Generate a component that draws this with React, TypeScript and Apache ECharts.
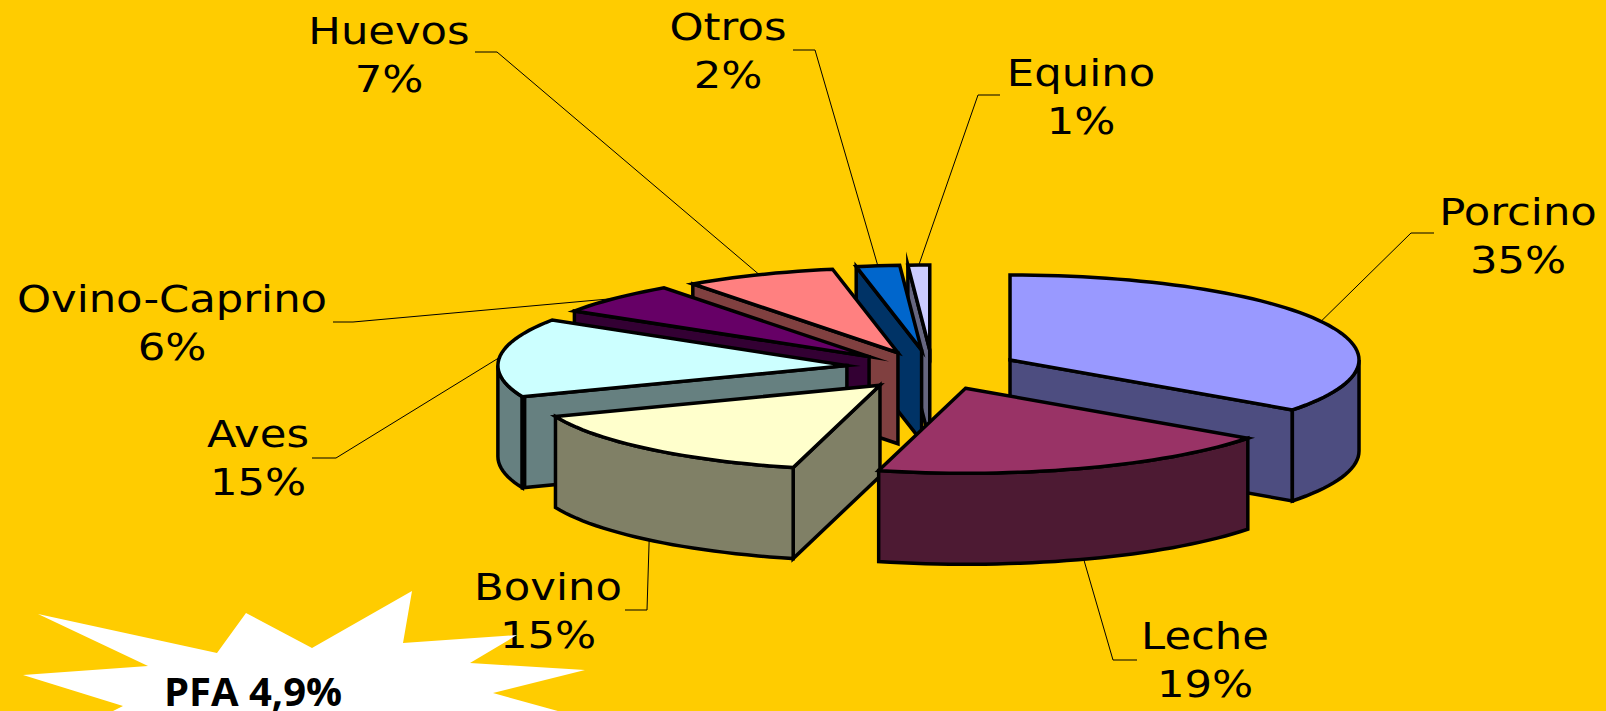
import React, { useEffect, useRef } from "react";
import * as echarts from "echarts";

// ---- data ----
const categories = ["Porcino", "Leche", "Bovino", "Aves", "Ovino-Caprino", "Huevos", "Otros", "Equino"];
const shares = [35, 19, 15, 15, 6, 7, 2, 1];
const topColors = ["#9999FF", "#993366", "#FFFFCC", "#CCFFFF", "#660066", "#FF8080", "#0066CC", "#CCCCFF"];
const wallColors = ["#4D4D80", "#4D1A33", "#808066", "#668080", "#330033", "#804040", "#003366", "#666680"];
const drawOrder = [7, 6, 5, 4, 3, 0, 2, 1];

// ---- layout of the exploded 3-D pie ----
const CX = 932.5;
const CY = 371;
const RX = 349;
const RY = 85;
const DEPTH = 91;
const EXPLODE = 87;
const EXPLODE_Y = 21;
const LINE = 3.5;
const FONT = "DejaVu Sans";

// small per-slice shift of the exploded position
const sliceNudges: number[][] = [
  [0, -1.5], [3.5, -2.5], [5, -1.5], [1, -3.5], [0, 0], [0, 1], [0, 0], [0, 0],
];

// label centre, and the elbow points of each leader (from label towards the slice)
const labelCentres: number[][] = [
  [1518, 236], [1205, 660], [548, 611], [258, 458], [172, 323], [389, 55], [728, 51], [1081, 97],
];
const leaderElbows: number[][][] = [
  [[1434, 233], [1411, 233]],
  [[1137, 660], [1113, 660]],
  [[625, 610], [647, 610]],
  [[312, 458], [336, 458]],
  [[333, 322], [353, 322]],
  [[475, 52], [497, 52]],
  [[793, 50], [815, 50]],
  [[1000, 95], [978, 95]],
];

const burst: number[][] = [
  [38, 614], [217, 653], [246, 613], [312, 648], [412, 591], [403, 643], [517, 635], [470, 663],
  [585, 670], [493, 693], [565, 713], [109, 713], [123, 706], [23, 675], [148, 666],
];

const total = shares.reduce((a, b) => a + b, 0);
const starts: number[] = [];
shares.reduce((acc, v, i) => {
  starts[i] = acc;
  return acc + (v / total) * 360;
}, 0);

const rad = (d: number) => (d * Math.PI) / 180;

function apex(i: number) {
  const mid = starts[i] + (shares[i] / total) * 180;
  return [
    CX + EXPLODE * Math.sin(rad(mid)) + sliceNudges[i][0],
    CY - EXPLODE_Y * Math.cos(rad(mid)) + sliceNudges[i][1],
  ];
}
function rim(i: number, deg: number, drop = 0) {
  const [ax, ay] = apex(i);
  return [ax + RX * Math.sin(rad(deg)), ay - RY * Math.cos(rad(deg)) + drop];
}
function arc(i: number, a: number, b: number, drop = 0) {
  const pts: number[][] = [];
  const n = Math.max(2, Math.ceil(Math.abs(b - a) / 2));
  for (let k = 0; k <= n; k++) pts.push(rim(i, a + ((b - a) * k) / n, drop));
  return pts;
}

const edge = (fill: string, lw = LINE) => ({
  fill,
  stroke: "#000",
  lineWidth: lw,
  lineJoin: "miter",
  miterLimit: 12,
});

function renderSlice(_: any, api: any) {
  const i = api.value(1);
  const a = starts[i];
  const b = a + (api.value(0) / total) * 360;
  const [ax, ay] = apex(i);
  const children: any[] = [];
  const wall = wallColors[i];

  // radial wall facing the viewer
  const radial = (deg: number) => {
    const p = rim(i, deg);
    children.push({
      type: "polygon",
      shape: { points: [[ax, ay], p, [p[0], p[1] + DEPTH], [ax, ay + DEPTH]] },
      style: edge(wall),
    });
  };
  if (Math.sin(rad(a)) < -1e-6) radial(a);
  if (Math.sin(rad(b)) > 1e-6) radial(b);

  // outer rim wall
  const from = Math.max(a, 90);
  const to = Math.min(b, 270);
  if (to > from) {
    children.push({
      type: "polygon",
      shape: { points: [...arc(i, from, to), ...arc(i, to, from, DEPTH)] },
      style: edge(wall),
    });
  }
  // heavy corner on the Aves slice, where rim and radial wall meet
  if (categories[i] === "Aves") {
    const p = rim(i, a);
    children.push({
      type: "line",
      shape: { x1: p[0] + 1, y1: p[1], x2: p[0] + 1, y2: p[1] + DEPTH },
      style: { stroke: "#000", lineWidth: 6 },
    });
  }
  // top face
  children.push({
    type: "polygon",
    shape: { points: [[ax, ay], ...arc(i, a, b)] },
    style: edge(topColors[i]),
  });
  return { type: "group", children };
}

function renderLeader(_: any, api: any) {
  const i = api.value(1);
  const mid = starts[i] + (api.value(0) / total) * 180;
  const bottom = Math.cos(rad(mid)) < 0;
  const target = rim(i, mid, bottom ? DEPTH : 0);
  const pts = [...leaderElbows[i], target];
  return {
    type: "polyline",
    shape: { points: pts },
    style: { fill: "none", stroke: "#000", lineWidth: 1 },
  };
}

function renderLabel(_: any, api: any) {
  const i = api.value(1);
  return {
    type: "text",
    x: labelCentres[i][0],
    y: labelCentres[i][1],
    scaleX: 1.14,
    style: {
      text: `${categories[i]}\n${api.value(0)}%`,
      fontFamily: FONT,
      fontSize: 38,
      lineHeight: 48,
      fill: "#000",
      align: "center",
      verticalAlign: "middle",
    },
  };
}

const seriesData = drawOrder.map((i) => [shares[i], i]);

export default function App() {
  const ref = useRef<HTMLDivElement>(null);
  useEffect(() => {
    document.body.style.margin = "0";
    document.body.style.overflow = "hidden";
    const chart = echarts.init(ref.current!, undefined, { renderer: "svg" });
    chart.setOption({
      animation: false,
      backgroundColor: "#FFCC00",
      series: [
        { type: "custom", coordinateSystem: "none", z: 1, silent: true, data: seriesData, renderItem: renderLeader },
        { type: "custom", coordinateSystem: "none", z: 2, silent: true, data: seriesData, renderItem: renderSlice },
        { type: "custom", coordinateSystem: "none", z: 3, silent: true, data: seriesData, renderItem: renderLabel },
      ],
      graphic: [
        {
          type: "polygon",
          z: 100,
          silent: true,
          shape: { points: burst },
          style: { fill: "#FFFFFF" },
        },
        {
          type: "text",
          z: 101,
          x: 253,
          y: 690,
          silent: true,
          style: {
            text: "PFA 4,9%",
            fontFamily: "Open Sans",
            fontWeight: "bold",
            fontSize: 40,
            fill: "#000",
            align: "center",
            verticalAlign: "middle",
          },
        },
      ],
    });
    return () => chart.dispose();
  }, []);
  return <div ref={ref} style={{ width: 1606, height: 711 }} />;
}
